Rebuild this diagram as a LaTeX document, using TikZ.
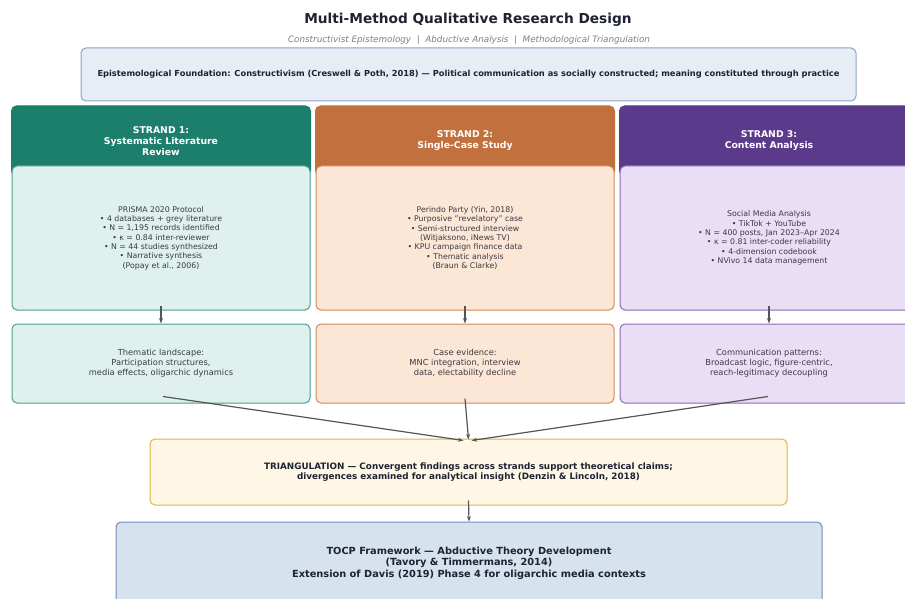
\documentclass[tikz,border=0pt]{standalone}
\usepackage{fontspec}
\setmainfont{DejaVu Sans}
\usetikzlibrary{arrows.meta}
\definecolor{titlecol}{HTML}{1F2233}
\definecolor{txtcol}{HTML}{3A3A44}
\definecolor{arrcol}{HTML}{555555}
\definecolor{foundfill}{HTML}{E8ECF4}
\definecolor{foundline}{HTML}{8AA4C8}
\definecolor{tealhead}{HTML}{1B7F6B}
\definecolor{tealfill}{HTML}{DFF1EE}
\definecolor{tealline}{HTML}{4A9E8C}
\definecolor{orghead}{HTML}{C2703D}
\definecolor{orgfill}{HTML}{FCE6D5}
\definecolor{orgline}{HTML}{D08A5C}
\definecolor{purhead}{HTML}{5B3A8C}
\definecolor{purfill}{HTML}{EADEF6}
\definecolor{purline}{HTML}{8A6BB5}
\definecolor{trifill}{HTML}{FEF7E5}
\definecolor{triline}{HTML}{D8B840}
\definecolor{tocpfill}{HTML}{D6E3EF}
\definecolor{tocpline}{HTML}{6D8EBF}
\tikzset{
  box/.style={draw, rounded corners=5pt, line width=1pt, align=center, inner sep=0pt},
  headbox/.style={box, text=white, font=\fontsize{9.3}{11}\selectfont\bfseries,
    minimum width=299pt, minimum height=70pt},
  bodybox/.style={box, text=txtcol, font=\fontsize{7.8}{9.3}\selectfont,
    minimum width=298pt, minimum height=144pt},
  outbox/.style={box, text=txtcol, font=\fontsize{8.3}{10}\selectfont,
    minimum width=298pt, minimum height=79pt},
  arr/.style={-{Stealth[length=5.5pt,width=4pt]}, draw=arrcol, line width=1.2pt}
}
\begin{document}
\begin{tikzpicture}[x=1pt,y=-1pt]
\useasboundingbox[fill=white] (0,0) rectangle (905,599);
% Title and subtitle
\node[text=titlecol, font=\fontsize{13.7}{15}\selectfont\bfseries] (title) at (468,20) {Multi-Method Qualitative Research Design};
\node[text=gray, font=\fontsize{8.8}{10}\selectfont\itshape] (subtitle) at (469,40) {Constructivist Epistemology \ | \ Abductive Analysis \ | \ Methodological Triangulation};
% Epistemological foundation
\node[box, fill=foundfill, draw=foundline, text=titlecol, font=\fontsize{8.3}{10}\selectfont\bfseries,
  minimum width=775pt, minimum height=53pt] (found) at (468.5,74.5)
  {Epistemological Foundation: Constructivism (Creswell \& Poth, 2018) — Political communication as socially constructed; meaning constituted through practice};
% Strand headers
\node[headbox, fill=tealhead, draw=tealhead] (h1) at (161,141) {STRAND 1:\\Systematic Literature\\Review};
\node[headbox, fill=orghead, draw=orghead] (h2) at (465,141) {STRAND 2:\\Single-Case Study};
\node[headbox, fill=purhead, draw=purhead] (h3) at (769,141) {STRAND 3:\\Content Analysis};
% Strand bodies
\node[bodybox, fill=tealfill, draw=tealline] (b1) at (161,238) {PRISMA 2020 Protocol\\• 4 databases + grey literature\\• N = 1,195 records identified\\• κ = 0.84 inter-reviewer\\• N = 44 studies synthesized\\• Narrative synthesis\\(Popay et al., 2006)};
\node[bodybox, fill=orgfill, draw=orgline] (b2) at (465,238) {Perindo Party (Yin, 2018)\\• Purposive "revelatory" case\\• Semi-structured interview\\(Witjaksono, iNews TV)\\• KPU campaign finance data\\• Thematic analysis\\(Braun \& Clarke)};
\node[bodybox, fill=purfill, draw=purline] (b3) at (769,238) {Social Media Analysis\\• TikTok + YouTube\\• N = 400 posts, Jan 2023–Apr 2024\\• κ = 0.81 inter-coder reliability\\• 4-dimension codebook\\• NVivo 14 data management};
% Strand outputs
\node[outbox, fill=tealfill, draw=tealline] (o1) at (161,363.5) {Thematic landscape:\\Participation structures,\\media effects, oligarchic dynamics};
\node[outbox, fill=orgfill, draw=orgline] (o2) at (465,363.5) {Case evidence:\\MNC integration, interview\\data, electability decline};
\node[outbox, fill=purfill, draw=purline] (o3) at (769,363.5) {Communication patterns:\\Broadcast logic, figure-centric,\\reach-legitimacy decoupling};
% Triangulation and framework
\node[box, fill=trifill, draw=triline, text=titlecol, font=\fontsize{8.8}{10}\selectfont\bfseries,
  minimum width=637pt, minimum height=66pt] (tri) at (468.5,472)
  {TRIANGULATION — Convergent findings across strands support theoretical claims;\\divergences examined for analytical insight (Denzin \& Lincoln, 2018)};
\node[box, fill=tocpfill, draw=tocpline, text=titlecol, font=\fontsize{9.8}{11.5}\selectfont\bfseries,
  minimum width=706pt, minimum height=82pt] (tocp) at (469,563)
  {TOCP Framework — Abductive Theory Development\\(Tavory \& Timmermans, 2014)\\Extension of Davis (2019) Phase 4 for oligarchic media contexts};
% Arrows
\foreach \i in {1,2,3}
  \draw[arr] ([yshift=5pt]b\i.south) -- (o\i.north);
\draw[arr] ([xshift=2pt,yshift=7pt]o1.south) -- ([xshift=-5pt,yshift=-2pt]tri.north);
\draw[arr] ([yshift=5pt]o2.south) -- ([yshift=-1pt]tri.north);
\draw[arr] ([xshift=-1pt,yshift=7pt]o3.south) -- ([xshift=3pt,yshift=-2pt]tri.north);
\draw[arr] ([yshift=5pt]tri.south) -- (tocp.north);
\end{tikzpicture}
\end{document}
